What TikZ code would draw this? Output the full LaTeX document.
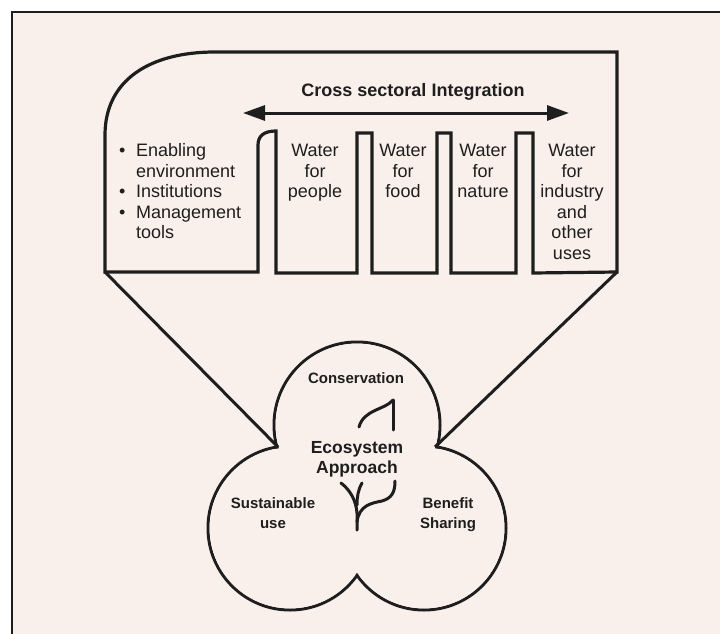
\documentclass[tikz,border=0pt]{standalone}
\usepackage{fontspec}
\setmainfont{Liberation Sans}
\usetikzlibrary{arrows.meta}
\definecolor{bgpink}{HTML}{FAF0EB}
\definecolor{ink}{HTML}{1E1E1E}
\begin{document}
\begin{tikzpicture}[x=1pt,y=-1pt,
  outline/.style={draw=ink,line width=3.2pt,line join=miter},
  lobe/.style={draw=ink,line width=3pt},
  twig/.style={draw=ink,line width=3pt,line cap=round},
  paneltext/.style={inner sep=0pt,text=ink,font=\fontsize{18}{20.5}\selectfont},
  lobetext/.style={inner sep=0pt,text=ink,font=\bfseries\fontsize{15}{20}\selectfont},
  bigarrow/.style={draw=ink,line width=3pt,{Triangle[length=22pt,width=15pt]}-{Triangle[length=22pt,width=15pt]}},
]
\useasboundingbox (0,0) rectangle (720,634);
\fill[white] (0,0) rectangle (720,634);
\fill[bgpink] (12,12) rectangle (720,634);
\draw[ink,line width=1.5pt] (12,634) -- (12,12) -- (720,12);

% panel outline
\coordinate (pbl) at (105,272);
\coordinate (pbr) at (617,272);
\draw[outline] (pbl) -- (258,272) -- (258,145) .. controls (258,136) and (264,131) .. (276,131)
  -- (276,273) -- (357,273) -- (357,133) -- (372,133) -- (372,273) -- (437,273)
  -- (437,133) -- (451,133) -- (451,273) -- (516,273) -- (516,133) -- (533,133)
  -- (533,273) -- (pbr) -- (617,52) -- (215,52) .. controls (150,52) and (105,80) .. (105,135) -- cycle;

% title and arrow
\node[anchor=base,inner sep=0pt,text=ink,font=\bfseries\fontsize{18}{20}\selectfont] (title) at (413,96.5) {Cross sectoral Integration};
\coordinate (al) at (243,113);
\coordinate (ar) at (569,113);
\draw[bigarrow] (al) -- (ar);

% panel texts
\node[paneltext,anchor=north west] (tools) at (119,142.2) {\begin{tabular}{@{}l@{\hspace{10.7pt}}l@{}}\textbullet & Enabling\\ & environment\\ \textbullet & Institutions\\ \textbullet & Management\\ & tools\end{tabular}};
\node[paneltext,anchor=north] (people) at (315,142.2) {\begin{tabular}{@{}c@{}}Water\\for\\people\end{tabular}};
\node[paneltext,anchor=north] (food) at (403,142.2) {\begin{tabular}{@{}c@{}}Water\\for\\food\end{tabular}};
\node[paneltext,anchor=north] (nature) at (483,142.2) {\begin{tabular}{@{}c@{}}Water\\for\\nature\end{tabular}};
\node[paneltext,anchor=north] (industry) at (572,142.2) {\begin{tabular}{@{}c@{}}Water\\for\\industry\\and\\other\\uses\end{tabular}};

% trefoil
\draw[lobe] (357,425) circle[radius=83pt] (290,528) circle[radius=82pt] (424,528) circle[radius=82pt];
\fill[bgpink] (357,425) circle[radius=81.4pt] (290,528) circle[radius=80.4pt] (424,528) circle[radius=80.4pt];
\coordinate (cl) at (278,447);
\coordinate (cr) at (435,447);
\draw[ink,line width=3pt] (pbl) -- (cl);
\draw[ink,line width=3pt] (pbr) -- (cr);

% twig glyph
\coordinate (ttop) at (393,400);
\draw[twig] (ttop) -- (393,430);
\draw[twig] (ttop) .. controls (385,410) and (364,409) .. (359,427);
\coordinate (tstem) at (357,530);
\draw[twig] (341,483) .. controls (350,490) and (356,500) .. (357,513) -- (tstem);
\draw[twig] (362,483) .. controls (358,490) and (357,497) .. (357,505);
\draw[twig] (357,522) .. controls (359,505) and (372,503) .. (382,501) .. controls (392,498) and (395,492) .. (395,481);

% lobe texts
\node[lobetext,anchor=base] (cons) at (356,383) {Conservation};
\node[inner sep=0pt,text=ink,font=\bfseries\fontsize{17.5}{20}\selectfont,anchor=north] (eco) at (357,439.5) {\begin{tabular}{@{}c@{}}Ecosystem\\Approach\end{tabular}};
\node[lobetext,anchor=north] (sust) at (273,494) {\begin{tabular}{@{}c@{}}Sustainable\\use\end{tabular}};
\node[lobetext,anchor=north] (benefit) at (448,494) {\begin{tabular}{@{}c@{}}Benefit\\Sharing\end{tabular}};
\end{tikzpicture}
\end{document}
